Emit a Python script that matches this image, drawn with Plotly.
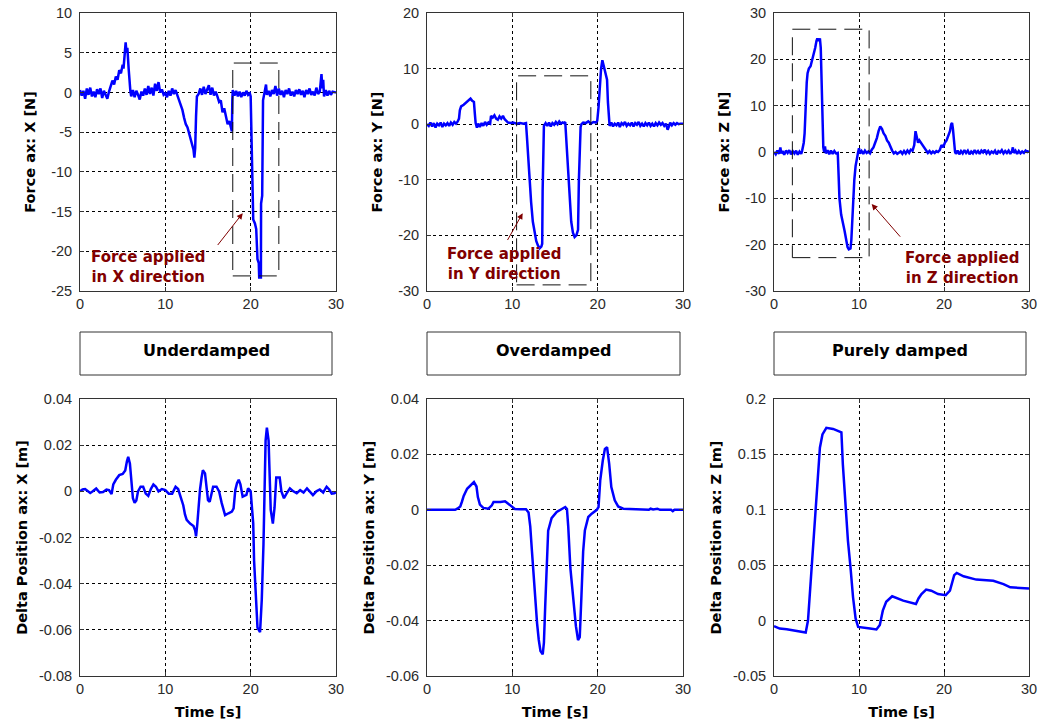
import plotly.graph_objects as go

# ---------------- data ----------------
fx_t = [0.0, 0.2, 0.4, 0.6, 0.8, 1.0, 1.2, 1.4, 1.6, 1.8, 2.0, 2.2, 2.4, 2.6, 2.8, 3.0, 3.2, 3.4,
        3.6, 3.8, 4.0, 4.2, 4.4, 4.6, 4.8, 5.0, 5.1, 5.2, 5.35, 5.45, 5.55, 5.7, 5.8, 5.9, 6.0,
        6.2, 6.4, 6.6, 6.8, 7.0, 7.2, 7.4, 7.6, 7.8, 8.0, 8.2, 8.4, 8.6, 8.8, 9.0, 9.2, 9.4, 9.6,
        9.8, 10.0, 10.2, 10.4, 10.6, 10.8, 11.0, 11.2, 11.4, 11.6, 11.8, 12.0, 12.2, 12.4, 12.6,
        12.8, 13.0, 13.2, 13.3, 13.4, 13.5, 13.6, 13.7, 13.9, 14.1, 14.3, 14.5, 14.7, 14.9, 15.1,
        15.3, 15.5, 15.7, 15.9, 16.1, 16.3, 16.5, 16.7, 16.9, 17.1, 17.3, 17.5, 17.7, 17.8, 17.85,
        17.9, 18.1, 18.3, 18.5, 18.7, 18.9, 19.1, 19.3, 19.5, 19.7, 19.9, 20.0, 20.05, 20.15, 20.3,
        20.5, 20.65, 20.8, 20.95, 21.0, 21.2, 21.22, 21.35, 21.45, 21.6, 21.8, 21.9, 22.1, 22.3,
        22.5, 22.7, 22.9, 23.1, 23.3, 23.5, 23.7, 23.9, 24.1, 24.3, 24.5, 24.7, 24.9, 25.1, 25.3,
        25.5, 25.7, 25.9, 26.1, 26.3, 26.5, 26.7, 26.9, 27.1, 27.3, 27.5, 27.7, 27.9, 28.1, 28.3,
        28.4, 28.5, 28.6, 28.8, 29.0, 29.2, 29.4, 29.6, 29.8, 30.0]
fx_v = [0.3, -0.4, 0.2, -0.8, 0.5, -0.3, 0.6, -0.5, 0.1, -0.6, 0.4, -0.2, 0.5, -0.7, 0.2, -0.4, -0.8, 0.1,
        0.8, 1.5, 1.0, 2.0, 1.6, 2.8, 2.4, 3.5, 3.0, 4.8, 6.3, 5.0, 5.6, 3.0, 1.0, 0.2, -0.5,
        0.3, -0.6, 0.2, -0.3, -0.9, 0.1, -0.4, 0.5, -0.3, 0.8, -0.2, 0.6, -0.4, 1.1, 0.2, 1.3, 0.0, 0.4,
        -0.3, -0.1, -0.6, 0.2, -0.4, 0.5, -0.2, 0.3, -0.3, -0.8, -1.5, -2.2, -3.2, -4.0, -4.4,
        -5.2, -6.0, -6.8, -7.2, -8.2, -7.0, -3.0, -0.5, -0.2, 0.5, -0.3, 0.7, -0.2, 0.4, 0.9,
        -0.3, 0.6, -0.4, 0.1, -0.5, -1.2, -1.0, -2.5, -2.0, -3.2, -4.0, -3.6, -4.4, -4.9, -1.0,
        0.3, -0.4, 0.2, -0.5, 0.1, -0.6, 0.0, -0.4, 0.2, -0.3, -0.1, -0.5, -3.5, -9.0, -16.0,
        -16.5, -17.2, -21.0, -21.5, -23.3, -23.3, -14.0, -13.0, -1.0, -0.2, 1.0, -0.3, 0.2, -0.5,
        0.3, -0.2, 0.8, -0.4, 0.5, -0.3, 0.2, -0.6, 0.3, -0.2, 0.5, -0.4, 0.1, -0.5, 0.3,
        -0.2, 0.4, -0.3, 0.2, -0.6, 0.3, -0.2, 0.5, -0.3, 0.1, -0.4, 0.6, -0.2, 0.1, 2.3,
        0.5, 1.6, -0.5, 0.3, -0.4, 0.2, -0.3, 0.1, 0.0, 0.0]

fy_t = [0.0, 0.2, 0.4, 0.6, 0.8, 1.0, 1.2, 1.4, 1.6, 1.8, 2.0, 2.2, 2.4, 2.6, 2.8, 3.0, 3.2, 3.4,
        3.6, 3.75, 3.85, 4.0, 4.3, 4.6, 4.9, 5.1, 5.3, 5.5, 5.6, 5.7, 5.85, 6.0, 6.2, 6.4, 6.6,
        6.8, 7.0, 7.2, 7.4, 7.5, 7.7, 7.9, 8.1, 8.3, 8.5, 8.7, 8.9, 9.1, 9.3, 9.5, 9.8, 10.1,
        10.5, 10.9, 11.3, 11.6, 11.7, 11.85, 12.0, 12.2, 12.4, 12.6, 12.8, 13.0, 13.2, 13.4,
        13.5, 13.55, 13.6, 13.7, 13.9, 14.1, 14.3, 14.5, 14.7, 14.9, 15.1, 15.3, 15.5, 15.7,
        15.9, 16.05, 16.2, 16.3, 16.45, 16.6, 16.75, 16.9, 17.1, 17.3, 17.5, 17.7, 17.8, 17.9,
        18.0, 18.1, 18.3, 18.6, 18.9, 19.2, 19.5, 19.8, 19.95, 20.1, 20.25, 20.4, 20.55, 20.65,
        20.8, 20.95, 21.1, 21.2, 21.3, 21.4, 21.6, 21.8, 22.0, 22.2, 22.4, 22.6, 22.8, 23.0,
        23.2, 23.4, 23.6, 23.8, 24.0, 24.2, 24.4, 24.6, 24.8, 25.0, 25.2, 25.4, 25.6, 25.8,
        26.0, 26.2, 26.4, 26.6, 26.8, 27.0, 27.2, 27.4, 27.6, 27.8, 28.0, 28.2, 28.4, 28.5,
        28.7, 28.9, 29.1, 29.3, 29.5, 29.7, 30.0]
fy_v = [0.0, -0.3, 0.3, -0.4, 0.2, -0.6, 0.1, -0.2, 0.3, -0.5, 0.1, -0.2, 0.2, -0.3, 0.3, -0.1, 0.4, 0.1,
        0.5, 1.0, 2.5, 3.2, 3.5, 3.9, 4.2, 4.6, 4.2, 4.0, 2.0, 0.2, -0.6, 0.1, -0.5, 0.2, -0.3,
        0.4, -0.1, 0.3, 0.1, 1.5, 1.2, 1.6, 1.0, 0.8, 1.4, 1.0, 1.5, 0.9, 0.6, 0.3, 0.2, 0.3,
        0.1, 0.2, 0.1, 0.2, -2.0, -6.0, -10.0, -14.0, -17.5, -19.5, -21.0, -21.8, -22.3, -22.0,
        -21.5, -12.0, -5.0, -0.3, 0.2, -0.3, 0.3, -0.4, 0.2, -0.1, 0.4, 0.0, 0.5, 0.1,
        0.3, 0.2, 0.4, -2.0, -6.0, -10.0, -14.0, -17.5, -19.5, -20.3, -20.0, -19.0, -10.0, -3.0,
        -0.5, 0.0, 0.3, 0.2, 0.5, 0.1, 0.4, 0.3, 0.6, 3.0, 7.0, 10.0, 11.5, 10.8,
        10.0, 9.0, 8.0, 4.0, 0.5, -0.3, 0.3, -0.4, 0.1, -0.2, 0.3, -0.5, 0.2, -0.1,
        0.4, -0.3, 0.1, -0.2, 0.3, -0.4, 0.2, -0.1, 0.4, -0.3, 0.1, -0.4, 0.2, -0.2,
        0.3, -0.3, 0.1, -0.4, 0.2, -0.2, 0.3, -0.1, 0.2, -0.3, 0.1, -1.0, -0.2, 0.3,
        -0.2, 0.2, -0.1, 0.2, 0.0, 0.1, 0.1]

fz_t = [0.0, 0.2, 0.4, 0.6, 0.75, 0.85, 1.0, 1.2, 1.4, 1.6, 1.8, 2.0, 2.2, 2.4, 2.6, 2.8, 3.0, 3.2,
        3.3, 3.4, 3.5, 3.6, 3.7, 3.85, 3.95, 4.1, 4.3, 4.5, 4.7, 4.85, 5.0, 5.1, 5.25, 5.4, 5.5,
        5.6, 5.7, 5.8, 5.9, 6.0, 6.1, 6.3, 6.5, 6.7, 6.9, 7.1, 7.3, 7.5, 7.6, 7.7, 7.9, 8.1, 8.3,
        8.5, 8.65, 8.8, 9.0, 9.1, 9.2, 9.3, 9.45, 9.6, 9.75, 9.9, 10.0, 10.1, 10.3, 10.5, 10.7,
        10.9, 11.1, 11.3, 11.5, 11.7, 11.9, 12.1, 12.3, 12.5, 12.7, 12.9, 13.1, 13.3, 13.5, 13.7,
        13.9, 14.1, 14.3, 14.5, 14.7, 14.9, 15.1, 15.3, 15.5, 15.7, 15.9, 16.1, 16.3, 16.5, 16.65,
        16.8, 16.95, 17.1, 17.3, 17.5, 17.7, 17.9, 18.1, 18.3, 18.5, 18.7, 18.9, 19.1, 19.3, 19.5,
        19.7, 19.9, 20.1, 20.3, 20.5, 20.7, 20.85, 20.95, 21.05, 21.15, 21.3, 21.4, 21.6, 21.8,
        22.0, 22.2, 22.4, 22.6, 22.8, 23.0, 23.2, 23.4, 23.6, 23.8, 24.0, 24.2, 24.4, 24.6, 24.8,
        25.0, 25.2, 25.4, 25.6, 25.8, 26.0, 26.2, 26.4, 26.6, 26.8, 27.0, 27.2, 27.4, 27.6, 27.8,
        28.0, 28.1, 28.2, 28.4, 28.6, 28.8, 29.0, 29.2, 29.4, 29.6, 29.8, 30.0]
fz_v = [0.0, -0.5, 0.3, -0.4, 1.0, -0.3, 0.2, -0.6, 0.3, -0.2, 0.4, -0.5, 0.2, -0.3, 0.3, -0.6, 0.1, -0.4,
        0.2, 1.0, 2.0, 4.0, 10.0, 15.0, 17.0, 18.0, 18.5, 20.0, 21.0, 22.5, 24.0, 24.5, 24.0, 24.5, 22.5,
        15.0, 8.0, 1.0, 0.0, 1.2, -0.3, 0.4, -0.5, 0.3, -0.4, 0.2, -0.3, -0.2, -5.0, -10.0, -13.5, -15.0, -17.0,
        -19.0, -20.5, -21.0, -20.8, -19.0, -15.0, -10.0, -6.0, -3.0, -1.0, 0.0, 0.8, -0.3, 0.2, -0.4, 0.3,
        -0.2, 0.1, -0.3, 0.5, 1.0, 2.0, 3.0, 4.5, 5.5, 5.0, 4.0, 3.5, 2.5, 2.0, 1.0,
        0.3, -0.3, 0.0, -0.4, -0.2, 0.1, -0.4, 0.2, -0.3, 0.3, -0.2, 0.5, 0.3, 1.5, 4.5,
        3.5, 2.0, 2.5, 2.0, 1.5, 0.8, 0.3, -0.2, 0.2, -0.3, 0.1, -0.2, 0.2, 0.0, 0.4,
        1.5, 1.0, 2.0, 2.5, 3.5, 4.5, 6.0, 6.3, 5.0, 2.0, 0.0, -0.4, 0.3, -0.5,
        0.2, -0.3, 0.4, -0.2, 0.3, -0.5, 0.1, -0.3, 0.4, -0.2, 0.2, -0.4, 0.3, -0.1, 0.5,
        -0.3, 0.2, -0.4, 0.1, -0.2, 0.3, -0.5, 0.2, -0.1, 0.4, -0.3, 0.2, -0.2, 0.3, -0.4,
        0.2, 1.0, -0.2, 0.3, -0.4, 0.2, -0.3, 0.1, -0.2, 0.3, 0.0, 0.2]

dx_t = [0.0, 0.3, 0.6, 0.9, 1.2, 1.5, 1.9, 2.3, 2.7, 3.1, 3.4, 3.7, 3.9, 4.2, 4.6, 5.0, 5.3, 5.5,
        5.65, 5.85, 6.0, 6.2, 6.4, 6.6, 6.8, 7.1, 7.4, 7.7, 8.0, 8.3, 8.6, 8.9, 9.2, 9.6, 10.0,
        10.4, 10.8, 11.2, 11.5, 11.8, 12.1, 12.3, 12.5, 12.9, 13.3, 13.5, 13.6, 13.75, 13.9, 14.06,
        14.25, 14.4, 14.65, 14.85, 15.0, 15.2, 15.6, 16.0, 16.3, 16.6, 17.0, 17.4, 17.8, 18.0,
        18.2, 18.4, 18.6, 18.8, 19.06, 19.5, 19.7, 20.0, 20.3, 20.4, 20.6, 20.8, 21.1, 21.3, 21.5,
        21.6, 21.75, 21.9, 22.1, 22.2, 22.35, 22.6, 22.8, 23.0, 23.4, 23.6, 23.9, 24.2, 24.6, 25.0,
        25.4, 25.8, 26.2, 26.6, 27.0, 27.3, 27.7, 28.1, 28.5, 28.9, 29.2, 29.5, 29.8, 30.0]
dx_v = [0.0, 0.0008, 0.001, 0.0, -0.0007, 0.0, 0.0012, -0.0005, -0.0003, 0.0008, 0.0005, -0.0012, 0.003, 0.005, 0.007, 0.0075, 0.009, 0.013,
        0.015, 0.012, 0.005, -0.003, -0.005, -0.004, 0.0, 0.002, 0.002, -0.001, -0.002, 0.001, 0.003, 0.002, 0.0, 0.001, 0.0005,
        -0.001, -0.001, 0.002, 0.001, -0.003, -0.006, -0.010, -0.0124, -0.014, -0.015, -0.017, -0.0195, -0.014, -0.006, 0.0006,
        0.006, 0.0092, 0.0078, 0.002, -0.0038, -0.0045, 0.002, 0.002, 0.0, -0.005, -0.0103, -0.0095, -0.0088, -0.0074,
        0.0006, 0.0035, 0.005, 0.003, -0.0023, -0.0015, 0.0013, 0.0, -0.014, -0.030, -0.047, -0.059, -0.061, -0.047, -0.023,
        -0.001, 0.022, 0.0276, 0.022, 0.010, -0.008, -0.014, -0.007, 0.006, 0.006, 0.0, -0.003, -0.001, 0.0013, 0.0,
        -0.0008, 0.0005, -0.0005, 0.0013, -0.0005, -0.0016, 0.0, 0.0008, -0.0005, 0.002, 0.0008, -0.001, -0.0008, -0.0005]

dy_t = [0.0, 3.3, 3.6, 3.9, 4.1, 4.3, 4.7, 5.0, 5.26, 5.5, 5.8, 5.96, 6.2, 6.6, 7.2, 7.6, 7.8, 8.2,
        8.6, 9.15, 9.5, 9.9, 10.3, 11.0, 11.6, 11.9, 12.1, 12.3, 12.5, 12.7, 12.9, 13.1, 13.3, 13.56,
        13.7, 13.85, 14.0, 14.2, 14.6, 15.2, 15.8, 16.2, 16.4, 16.55, 16.8, 17.1, 17.45, 17.7, 17.9,
        18.1, 18.3, 18.5, 18.9, 19.3, 19.9, 20.1, 20.3, 20.6, 20.85, 21.1, 21.35, 21.6, 22.0, 22.4,
        23.0, 26.0, 26.2, 26.5, 27.0, 27.3, 28.6, 28.8, 29.0, 30.0]
dy_v = [0.0, 0.0, 0.0005, 0.0012, 0.003, 0.005, 0.0076, 0.0085, 0.0096, 0.010, 0.0084, 0.0046, 0.0019, 0.0007, 0.0004, 0.0016, 0.0028, 0.0028,
        0.0028, 0.0031, 0.0022, 0.001, 0.0003, 0.0002, 0.0002, -0.001, -0.006, -0.015, -0.024, -0.033, -0.041, -0.047, -0.051, -0.0522,
        -0.048, -0.035, -0.022, -0.0075, -0.003, -0.0008, 0.0003, 0.001, 0.0003, -0.006, -0.021, -0.031, -0.042, -0.047, -0.046,
        -0.031, -0.015, -0.0075, -0.0026, -0.0014, 0.0, 0.001, 0.0106, 0.0178, 0.022, 0.0226, 0.0166, 0.0082, 0.0034, 0.0012,
        0.0004, 0.0, 0.0004, 0.0001, 0.0004, 0.0, 0.0, -0.0005, 0.0, 0.0]

dz_t = [0.0, 0.67, 1.5, 2.3, 3.0, 3.73, 4.0, 4.2, 4.4, 4.6, 4.9, 5.2, 5.4, 5.7, 6.16, 6.95, 7.93, 8.1,
        8.3, 8.5, 8.7, 9.0, 9.3, 9.6, 9.9, 11.3, 12.05, 12.45, 12.8, 13.2, 13.9, 15.2, 16.2, 16.7,
        17.0, 17.35, 17.9, 18.5, 19.3, 20.2, 20.7, 21.2, 21.5, 22.3, 23.8, 25.8, 27.0, 27.8, 30.0]
dz_v = [-0.0051, -0.0072, -0.0078, -0.0088, -0.0102, -0.0108, 0.0, 0.021, 0.042, 0.066, 0.096, 0.126, 0.156, 0.168, 0.174, 0.173, 0.170, 0.141,
        0.117, 0.096, 0.072, 0.048, 0.021, 0.002, -0.0057, -0.0072, -0.008, -0.004, 0.009, 0.017, 0.022, 0.018, 0.016, 0.015,
        0.020, 0.024, 0.028, 0.027, 0.024, 0.023, 0.027, 0.041, 0.043, 0.040, 0.037, 0.036, 0.033, 0.030, 0.029]

# axis ticks
x_ticks = [0, 10, 20, 30]
x_text = ["0", "10", "20", "30"]
fx_ticks = [-25, -20, -15, -10, -5, 0, 5, 10]
fx_text = ["-25", "-20", "-15", "-10", "-5", "0", "5", "10"]
fy_ticks = [-30, -20, -10, 0, 10, 20]
fy_text = ["-30", "-20", "-10", "0", "10", "20"]
fz_ticks = [-30, -20, -10, 0, 10, 20, 30]
fz_text = ["-30", "-20", "-10", "0", "10", "20", "30"]
dx_ticks = [-0.08, -0.06, -0.04, -0.02, 0, 0.02, 0.04]
dx_text = ["-0.08", "-0.06", "-0.04", "-0.02", "0", "0.02", "0.04"]
dy_ticks = [-0.06, -0.04, -0.02, 0, 0.02, 0.04]
dy_text = ["-0.06", "-0.04", "-0.02", "0", "0.02", "0.04"]
dz_ticks = [-0.05, 0, 0.05, 0.1, 0.15, 0.2]
dz_text = ["-0.05", "0", "0.05", "0.1", "0.15", "0.2"]

y_titles = ["Force ax: X [N]", "Force ax: Y [N]", "Force ax: Z [N]",
            "Delta Position ax: X [m]", "Delta Position ax: Y [m]", "Delta Position ax: Z [m]"]
y_ranges = [[-25, 10], [-30, 20], [-30, 30], [-0.08, 0.04], [-0.06, 0.04], [-0.05, 0.2]]
modes = ["Underdamped", "Overdamped", "Purely damped"]

# dashed "force applied" regions
rect_x = [[17.9, 23.3], [10.5, 19.2], [2.16, 11.19]]
rect_y = [[-23.1, 3.7], [-28.9, 8.7], [-22.8, 26.5]]
note_texts = ["Force applied<br>in X direction", "Force applied<br>in Y direction",
              "Force applied<br>in Z direction"]
note_pos = [[8.0, -22.0], [9.0, -25.2], [22.1, -25.0]]
arrow_tail = [[16.0, -19.4], [9.34, -21.1], [15.0, -18.6]]
arrow_head = [[19.07, -15.2], [11.21, -16.0], [11.49, -11.2]]

series = [(fx_t, fx_v), (fy_t, fy_v), (fz_t, fz_v), (dx_t, dx_v), (dy_t, dy_v), (dz_t, dz_v)]
y_tick_sets = [(fx_ticks, fx_text), (fy_ticks, fy_text), (fz_ticks, fz_text),
               (dx_ticks, dx_text), (dy_ticks, dy_text), (dz_ticks, dz_text)]

# ---------------- layout ----------------
W, H = 1039, 728
cols_px = [(80, 336), (427, 683), (774, 1029)]
rows_px = [(13, 291), (399, 676)]
box_px_x = [(80, 332), (427, 680), (774, 1026)]
box_px_y = (332, 375)
y_title_standoff = [12, 7]

tick_font = dict(family="Liberation Sans, Arial, sans-serif", size=14.5, color="#2a2a2a")
title_font = dict(family="DejaVu Sans, sans-serif", size=14.5, color="black", weight="bold")
note_font = dict(family="DejaVu Sans, sans-serif", size=15, color="#800000", weight="bold")

fig = go.Figure()
layout = dict(width=W, height=H, margin=dict(l=0, r=0, t=0, b=0, pad=0), template="none",
              paper_bgcolor="white", plot_bgcolor="white", showlegend=False)

shapes = []
annotations = []
for i, (t, v) in enumerate(series):
    r, c = divmod(i, 3)
    n = "" if i == 0 else str(i + 1)
    fig.add_trace(go.Scatter(x=t, y=v, mode="lines", line=dict(color="#0000FF", width=2.5),
                             xaxis="x" + n, yaxis="y" + n, hoverinfo="skip", showlegend=False))
    x0p, x1p = cols_px[c]
    y0p, y1p = rows_px[r]
    common = dict(showline=True, mirror="ticks", linecolor="#333333", linewidth=1,
                  showgrid=True, gridcolor="black", griddash="dot", gridwidth=1,
                  zeroline=False, ticks="inside", ticklen=4, tickcolor="#333333",
                  tickfont=tick_font, automargin=False, fixedrange=True,
                  ticklabeloverflow="allow")
    xa = dict(common, domain=[x0p / W, x1p / W], range=[0, 30], anchor="y" + n,
              tickvals=x_ticks, ticktext=x_text, ticklabelstandoff=0)
    if r == 1:
        xa["title"] = dict(text="Time [s]", font=title_font, standoff=10)
    tv, tt = y_tick_sets[i]
    ya = dict(common, domain=[1 - y1p / H, 1 - y0p / H], range=y_ranges[i], anchor="x" + n,
              tickvals=tv, ticktext=tt, ticklabelstandoff=4,
              title=dict(text=y_titles[i], font=title_font, standoff=y_title_standoff[r]))
    layout["xaxis" + n] = xa
    layout["yaxis" + n] = ya

    if r == 0:
        shapes.append(dict(type="rect", xref="x" + n, yref="y" + n,
                           x0=rect_x[c][0], x1=rect_x[c][1], y0=rect_y[c][0], y1=rect_y[c][1],
                           line=dict(color="#111111", width=1, dash="18px,8px"), layer="above"))
        annotations.append(dict(xref="x" + n, yref="y" + n, x=note_pos[c][0], y=note_pos[c][1],
                                text=note_texts[c], showarrow=False, font=note_font,
                                xanchor="center", yanchor="middle", align="center"))
        annotations.append(dict(xref="x" + n, yref="y" + n, axref="x" + n, ayref="y" + n,
                                x=arrow_head[c][0], y=arrow_head[c][1],
                                ax=arrow_tail[c][0], ay=arrow_tail[c][1], text="",
                                showarrow=True, arrowhead=2, arrowsize=1.2, arrowwidth=1,
                                arrowcolor="#800000"))

for c in range(3):
    bx0, bx1 = box_px_x[c]
    shapes.append(dict(type="rect", xref="paper", yref="paper",
                       x0=bx0 / W, x1=bx1 / W, y0=1 - box_px_y[1] / H, y1=1 - box_px_y[0] / H,
                       line=dict(color="#333333", width=1), fillcolor="white"))
    annotations.append(dict(xref="paper", yref="paper", x=(bx0 + bx1) / 2 / W, y=1 - 350 / H,
                            text=modes[c], showarrow=False, xanchor="center", yanchor="middle",
                            font=dict(family="DejaVu Sans, sans-serif", size=16, color="black",
                                      weight="bold")))

layout["shapes"] = shapes
layout["annotations"] = annotations
fig.update_layout(**layout)
fig.write_html("out.html", config={"displayModeBar": False},
               post_script="document.body.style.margin='0';")
